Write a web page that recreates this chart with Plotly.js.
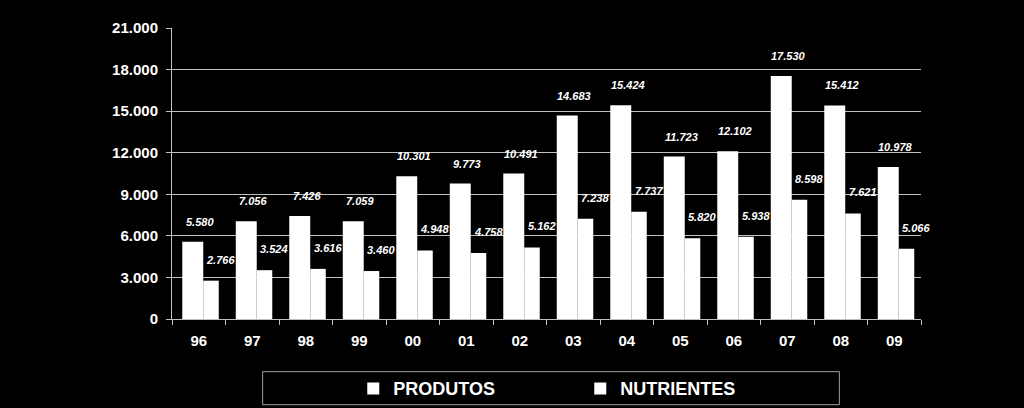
<!DOCTYPE html>
<html>
<head>
<meta charset="utf-8">
<script src="https://cdn.plot.ly/plotly-3.0.1.min.js"></script>
<style>html,body{margin:0;padding:0;background:#000;}#chart{width:1024px;height:408px;}</style>
</head>
<body>
<div id="chart"></div>
<script>
const years = ['96','97','98','99','00','01','02','03','04','05','06','07','08','09'];
const produtos = [5580, 7056, 7426, 7059, 10301, 9773, 10491, 14683, 15424, 11723, 12102, 17530, 15412, 10978];
const nutrientes = [2766, 3524, 3616, 3460, 4948, 4758, 5162, 7238, 7737, 5820, 5938, 8598, 7621, 5066];
const yTicks = [0, 3000, 6000, 9000, 12000, 15000, 18000, 21000];

const fontFam = 'Liberation Sans, Arial, sans-serif';
const labelFont = {family: fontFam, size: 11, color: '#ffffff', style: 'italic', weight: 'bold'};
const fmt = v => String(v).replace(/\B(?=(\d{3})+(?!\d))/g, '.');

const traces = [
  {type: 'bar', name: 'PRODUTOS', x: years, y: produtos,
   offset: -0.308, width: 0.392,
   marker: {color: '#ffffff', line: {width: 0}}},
  {type: 'bar', name: 'NUTRIENTES', x: years, y: nutrientes,
   offset: 0.084, width: 0.29,
   marker: {color: '#ffffff', line: {width: 0}}}
];

// annotations placed on the category axis by category index
const annotations = [];
years.forEach((yr, i) => {
  annotations.push({x: i, y: produtos[i], xref: 'x', yref: 'y', text: fmt(produtos[i]),
    showarrow: false, xanchor: 'center', yanchor: 'middle', xshift: 1, yshift: 20, font: labelFont});
  annotations.push({x: i, y: nutrientes[i], xref: 'x', yref: 'y', text: fmt(nutrientes[i]),
    showarrow: false, xanchor: 'center', yanchor: 'middle', xshift: 22, yshift: 21, font: labelFont});
});

const layout = {
  width: 1024, height: 408,
  paper_bgcolor: '#000000', plot_bgcolor: '#000000',
  separators: ',.',
  margin: {l: 172, r: 103, t: 28, b: 89, autoexpand: false},
  barmode: 'overlay',
  showlegend: true,
  font: {family: fontFam, color: '#ffffff'},
  xaxis: {
    type: 'category', categoryorder: 'array', categoryarray: years,
    range: [-0.5, years.length - 0.5], autorange: false,
    tickson: 'boundaries', ticks: 'outside', ticklen: 5, tickangle: 0,
    tickcolor: '#bfbfbf', showline: true, linecolor: '#bfbfbf', linewidth: 1,
    showgrid: false, automargin: false, ticklabelstandoff: 8,
    tickfont: {family: fontFam, size: 15, color: '#ffffff', weight: 'bold'}
  },
  yaxis: {
    range: [0, 21000], tickvals: yTicks, tickformat: ',d', ticks: 'outside', ticklen: 5,
    tickcolor: '#bfbfbf', showline: true, linecolor: '#bfbfbf', linewidth: 1,
    gridcolor: '#c0c0c0', gridwidth: 1, zeroline: false, automargin: false,
    ticklabelstandoff: 5,
    tickfont: {family: fontFam, size: 15, color: '#ffffff', weight: 'bold'}
  },
  legend: {
    orientation: 'h', x: 0.242, xanchor: 'left', y: -0.2395, yanchor: 'middle',
    bgcolor: 'rgba(0,0,0,0)', borderwidth: 0, entrywidth: 182, entrywidthmode: 'pixels',
    itemwidth: 30,
    font: {family: fontFam, size: 18, color: '#ffffff', weight: 'bold'}
  },
  annotations: annotations,
  shapes: [{
    type: 'rect', xref: 'paper', yref: 'paper',
    x0: 0.121, x1: 0.891, y0: -0.2945, y1: -0.181,
    line: {color: '#a0a0a0', width: 1}, fillcolor: 'rgba(0,0,0,0)', layer: 'below'
  }]
};

Plotly.newPlot('chart', traces, layout, {displayModeBar: false, staticPlot: true});
</script>
</body>
</html>
